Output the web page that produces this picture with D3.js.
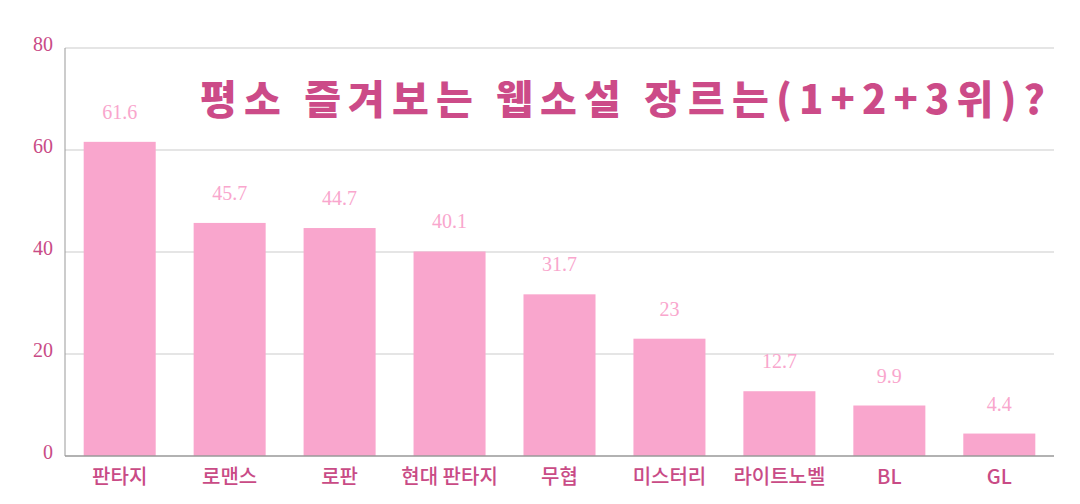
<!DOCTYPE html><html><head><meta charset="utf-8"><script src="https://d3js.org/d3.v7.min.js"></script>
<style>body{margin:0;background:#fff}</style></head><body><svg width="1080" height="504"></svg><script>
const categories=["판타지","로맨스","로판","현대 판타지","무협","미스터리","라이트노벨","BL","GL"];
const values=[61.6,45.7,44.7,40.1,31.7,23,12.7,9.9,4.4];
const yTicks=[0,20,40,60,80];
const svg=d3.select("svg");
const m={l:65,r:1054,t:48,b:456};
const x=d3.scaleBand().domain(categories).range([m.l,m.r]).paddingInner(0.345).paddingOuter(0.17);
const y=d3.scaleLinear().domain([0,80]).range([m.b,m.t]);
const ff="'Liberation Serif','Noto Sans CJK KR',serif";
const kf="'Noto Sans CJK KR',sans-serif";
svg.append("g").selectAll("line").data(yTicks.slice(1)).join("line")
 .attr("x1",m.l).attr("x2",m.r).attr("y1",d=>y(d)).attr("y2",d=>y(d)).attr("stroke","#dcdcdc").attr("stroke-width",1.5);
svg.append("g").selectAll("text").data(yTicks).join("text")
 .attr("x",53).attr("y",d=>y(d)+3).attr("text-anchor","end").attr("fill","#c94b86").attr("font-family",ff).attr("font-size",20).text(d=>d);
svg.append("line").attr("x1",m.l).attr("x2",m.l).attr("y1",m.t).attr("y2",m.b).attr("stroke","#999");
svg.append("g").selectAll("rect").data(values).join("rect")
 .attr("x",(d,i)=>x(categories[i])).attr("width",x.bandwidth()).attr("y",d=>y(d)).attr("height",d=>y(0)-y(d)).attr("fill","#f9a6cd");
svg.append("g").selectAll("text").data(values).join("text")
 .attr("x",(d,i)=>x(categories[i])+x.bandwidth()/2).attr("y",d=>y(d)-23).attr("text-anchor","middle")
 .attr("fill","#f9a6cd").attr("font-family",ff).attr("font-size",20).text(d=>d);
svg.append("line").attr("x1",m.l).attr("x2",m.r).attr("y1",m.b).attr("y2",m.b).attr("stroke","#999").attr("stroke-width",1.5);
svg.append("g").selectAll("text").data(categories).join("text")
 .attr("x",d=>x(d)+x.bandwidth()/2).attr("y",484).attr("text-anchor","middle")
 .attr("fill","#c94b86").attr("font-family",kf).attr("font-weight",500).attr("font-size",20).text(d=>d);
svg.append("text").attr("x",1045).attr("y",114).attr("text-anchor","end").attr("fill","#cc4b88")
 .attr("font-family",kf).attr("font-weight",900).attr("font-size",40).attr("textLength",845).text("평소 즐겨보는 웹소설 장르는(1+2+3위)?");
</script></body></html>
